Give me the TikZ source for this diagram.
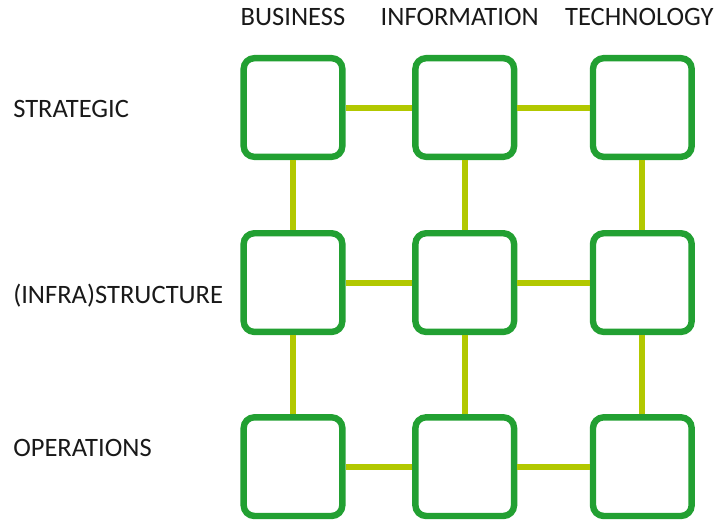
\documentclass[tikz,border=0pt]{standalone}
\usepackage{fontspec}
\setmainfont{Carlito}
\usetikzlibrary{positioning}
\definecolor{boxgreen}{RGB}{34,160,50}
\definecolor{linkgreen}{RGB}{178,200,0}

\begin{document}
\begin{tikzpicture}[x=0.75pt,y=-0.75pt,
		cell/.style={draw=boxgreen,line width=4.8pt,rounded corners=8pt,fill=white,minimum size=74pt,inner sep=0pt},
		link/.style={draw=linkgreen,line width=4.5pt},
		head/.style={font=\fontsize{19.9}{23}\selectfont,inner sep=0pt,text=black!90}]
	\useasboundingbox (0,0) rectangle (717,522);
	% grid of cells
	\node[cell] (b11) at (293,107.5) {};
	\node[cell,right=50pt of b11] (b12) {};
	\node[cell,right=54.4pt of b12] (b13) {};
	\node[cell,below=52.5pt of b11] (b21) {};
	\node[cell,right=50pt of b21] (b22) {};
	\node[cell,right=54.4pt of b22] (b23) {};
	\node[cell,below=59.25pt of b21] (b31) {};
	\node[cell,right=50pt of b31] (b32) {};
	\node[cell,right=54.4pt of b32] (b33) {};
	
	% column and row headings
	\node[head,above=21.75pt of b11] (business) {BUSINESS};
	\node[head,above=21.75pt of b12,xshift=-3.75pt] (information) {INFORMATION};
	\node[head,above=21.75pt of b13,xshift=-2.25pt] (technology) {TECHNOLOGY};
	\node[head,anchor=base west] (strategic) at (13,117) {STRATEGIC};
	\node[head,anchor=base west] (infrastructure) at (13,303) {(INFRA)STRUCTURE};
	\node[head,anchor=base west] (operations) at (13,456) {OPERATIONS};
	
	% links
	\draw[link] (b11) -- (b12);
	\draw[link] (b12) -- (b13);
	\draw[link] (b21) -- (b22);
	\draw[link] (b22) -- (b23);
	\draw[link] (b31) -- (b32);
	\draw[link] (b32) -- (b33);
	\draw[link] (b11) -- (b21);
	\draw[link] (b21) -- (b31);
	\draw[link] (b12) -- (b22);
	\draw[link] (b22) -- (b32);
	\draw[link] (b13) -- (b23);
	\draw[link] (b23) -- (b33);
\end{tikzpicture}
\end{document}
